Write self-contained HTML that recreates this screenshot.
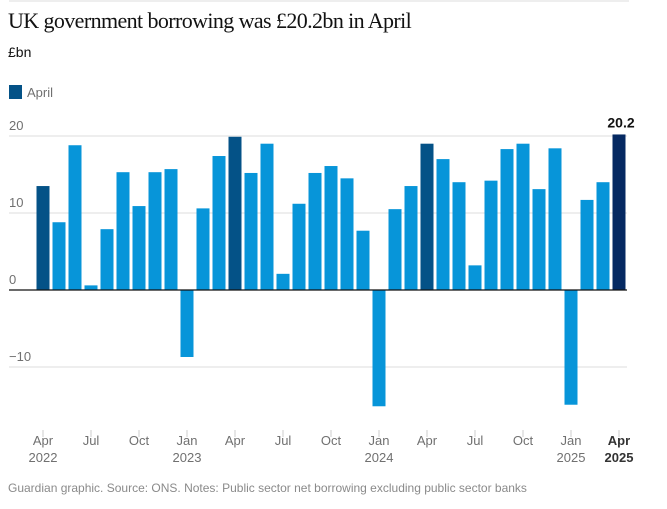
<!DOCTYPE html>
<html><head><meta charset="utf-8">
<style>
body{margin:0;background:#fff;width:667px;height:509px;overflow:hidden;font-family:"Liberation Sans",sans-serif;}
svg{display:block}
</style></head>
<body>
<svg width="667" height="509">
<line x1="9" y1="1" x2="629" y2="1" stroke="#dcdcdc" stroke-width="1"/>
<text x="8" y="28" font-family="Liberation Serif, serif" font-size="22" fill="#121212" letter-spacing="-0.6">UK government borrowing was £20.2bn in April</text>
<text x="8" y="57" font-size="14" fill="#121212">£bn</text>
<rect x="9" y="85" width="13" height="14" fill="#045287"/>
<text x="27" y="97" font-size="13" fill="#707070">April</text>
<g id="grid"></g>
<g id="bars"></g>
<g id="xaxis"></g>
<text x="8" y="492" font-size="12" fill="#8a8a8a">Guardian graphic. Source: ONS. Notes: Public sector net borrowing excluding public sector banks</text>
</svg>
<script>
const months=["Apr22","May22","Jun22","Jul22","Aug22","Sep22","Oct22","Nov22","Dec22","Jan23","Feb23","Mar23","Apr23","May23","Jun23","Jul23","Aug23","Sep23","Oct23","Nov23","Dec23","Jan24","Feb24","Mar24","Apr24","May24","Jun24","Jul24","Aug24","Sep24","Oct24","Nov24","Dec24","Jan25","Feb25","Mar25","Apr25"];
const values=[13.5,8.8,18.8,0.6,7.9,15.3,10.9,15.3,15.7,-8.7,10.6,17.4,19.9,15.2,19.0,2.1,11.2,15.2,16.1,14.5,7.7,-15.1,10.5,13.5,19.0,17.0,14.0,3.2,14.2,18.3,19.0,13.1,18.4,-14.9,11.7,14.0,20.2];
const yTicks=[20,10,0,-10];
const tickIdx=[0,3,6,9,12,15,18,21,24,27,30,33,36];
const tickMonth=["Apr","Jul","Oct","Jan","Apr","Jul","Oct","Jan","Apr","Jul","Oct","Jan","Apr"];
const tickYear=["2022","","","2023","","","","2024","","","","2025","2025"];
const NS="http://www.w3.org/2000/svg";
const y=v=>290-v*7.7;
const x=i=>43+i*16;
const bw=13;
const grid=document.getElementById('grid'),bars=document.getElementById('bars'),xa=document.getElementById('xaxis');
function mk(t,a,p){const e=document.createElementNS(NS,t);for(const k in a)e.setAttribute(k,a[k]);p.appendChild(e);return e;}
yTicks.forEach(v=>{
 if(v!==0){const l=mk('line',{x1:9,x2:627,y1:y(v),y2:y(v),stroke:'#dcdcdc'},grid);
 
 }
 const t=mk('text',{x:9,y:y(v)-6,'font-size':13,fill:'#707070'},grid);
 t.textContent=v<0?'\u221210':String(v);
 
 
});
values.forEach((v,i)=>{
 const last=i===values.length-1, apr=months[i].startsWith('Apr');
 const col=last?'#052962':apr?'#045287':'#0795d9';
 const r=mk('rect',{x:x(i)-bw/2,y:Math.min(y(v),y(0)),width:bw,height:Math.abs(y(v)-y(0)),fill:col},bars);
 
 
});
const lab=mk('text',{x:x(36)+2,y:y(values[36])-7,'font-size':14,'font-weight':'bold',fill:'#121212','text-anchor':'middle'},bars);
lab.textContent=values[36].toFixed(1);


const zl=mk('line',{x1:9,x2:627,y1:290,y2:290,stroke:'#121212','stroke-width':1.2},bars);


tickIdx.forEach((ti,k)=>{
 const tk=mk('line',{x1:x(ti),x2:x(ti),y1:430,y2:437,stroke:'#cccccc'},xa);
 
 
 const last=k===tickIdx.length-1;
 const t=mk('text',{x:x(ti),y:445,'font-size':13,fill:last?'#333':'#707070','text-anchor':'middle','font-weight':last?'bold':'normal'},xa);
 t.textContent=tickMonth[k];
 
 
 if(tickYear[k]){const t2=mk('text',{x:x(ti),y:462,'font-size':13,fill:last?'#333':'#707070','text-anchor':'middle','font-weight':last?'bold':'normal'},xa);
 t2.textContent=tickYear[k];
 
 }
});
</script>
</body></html>
